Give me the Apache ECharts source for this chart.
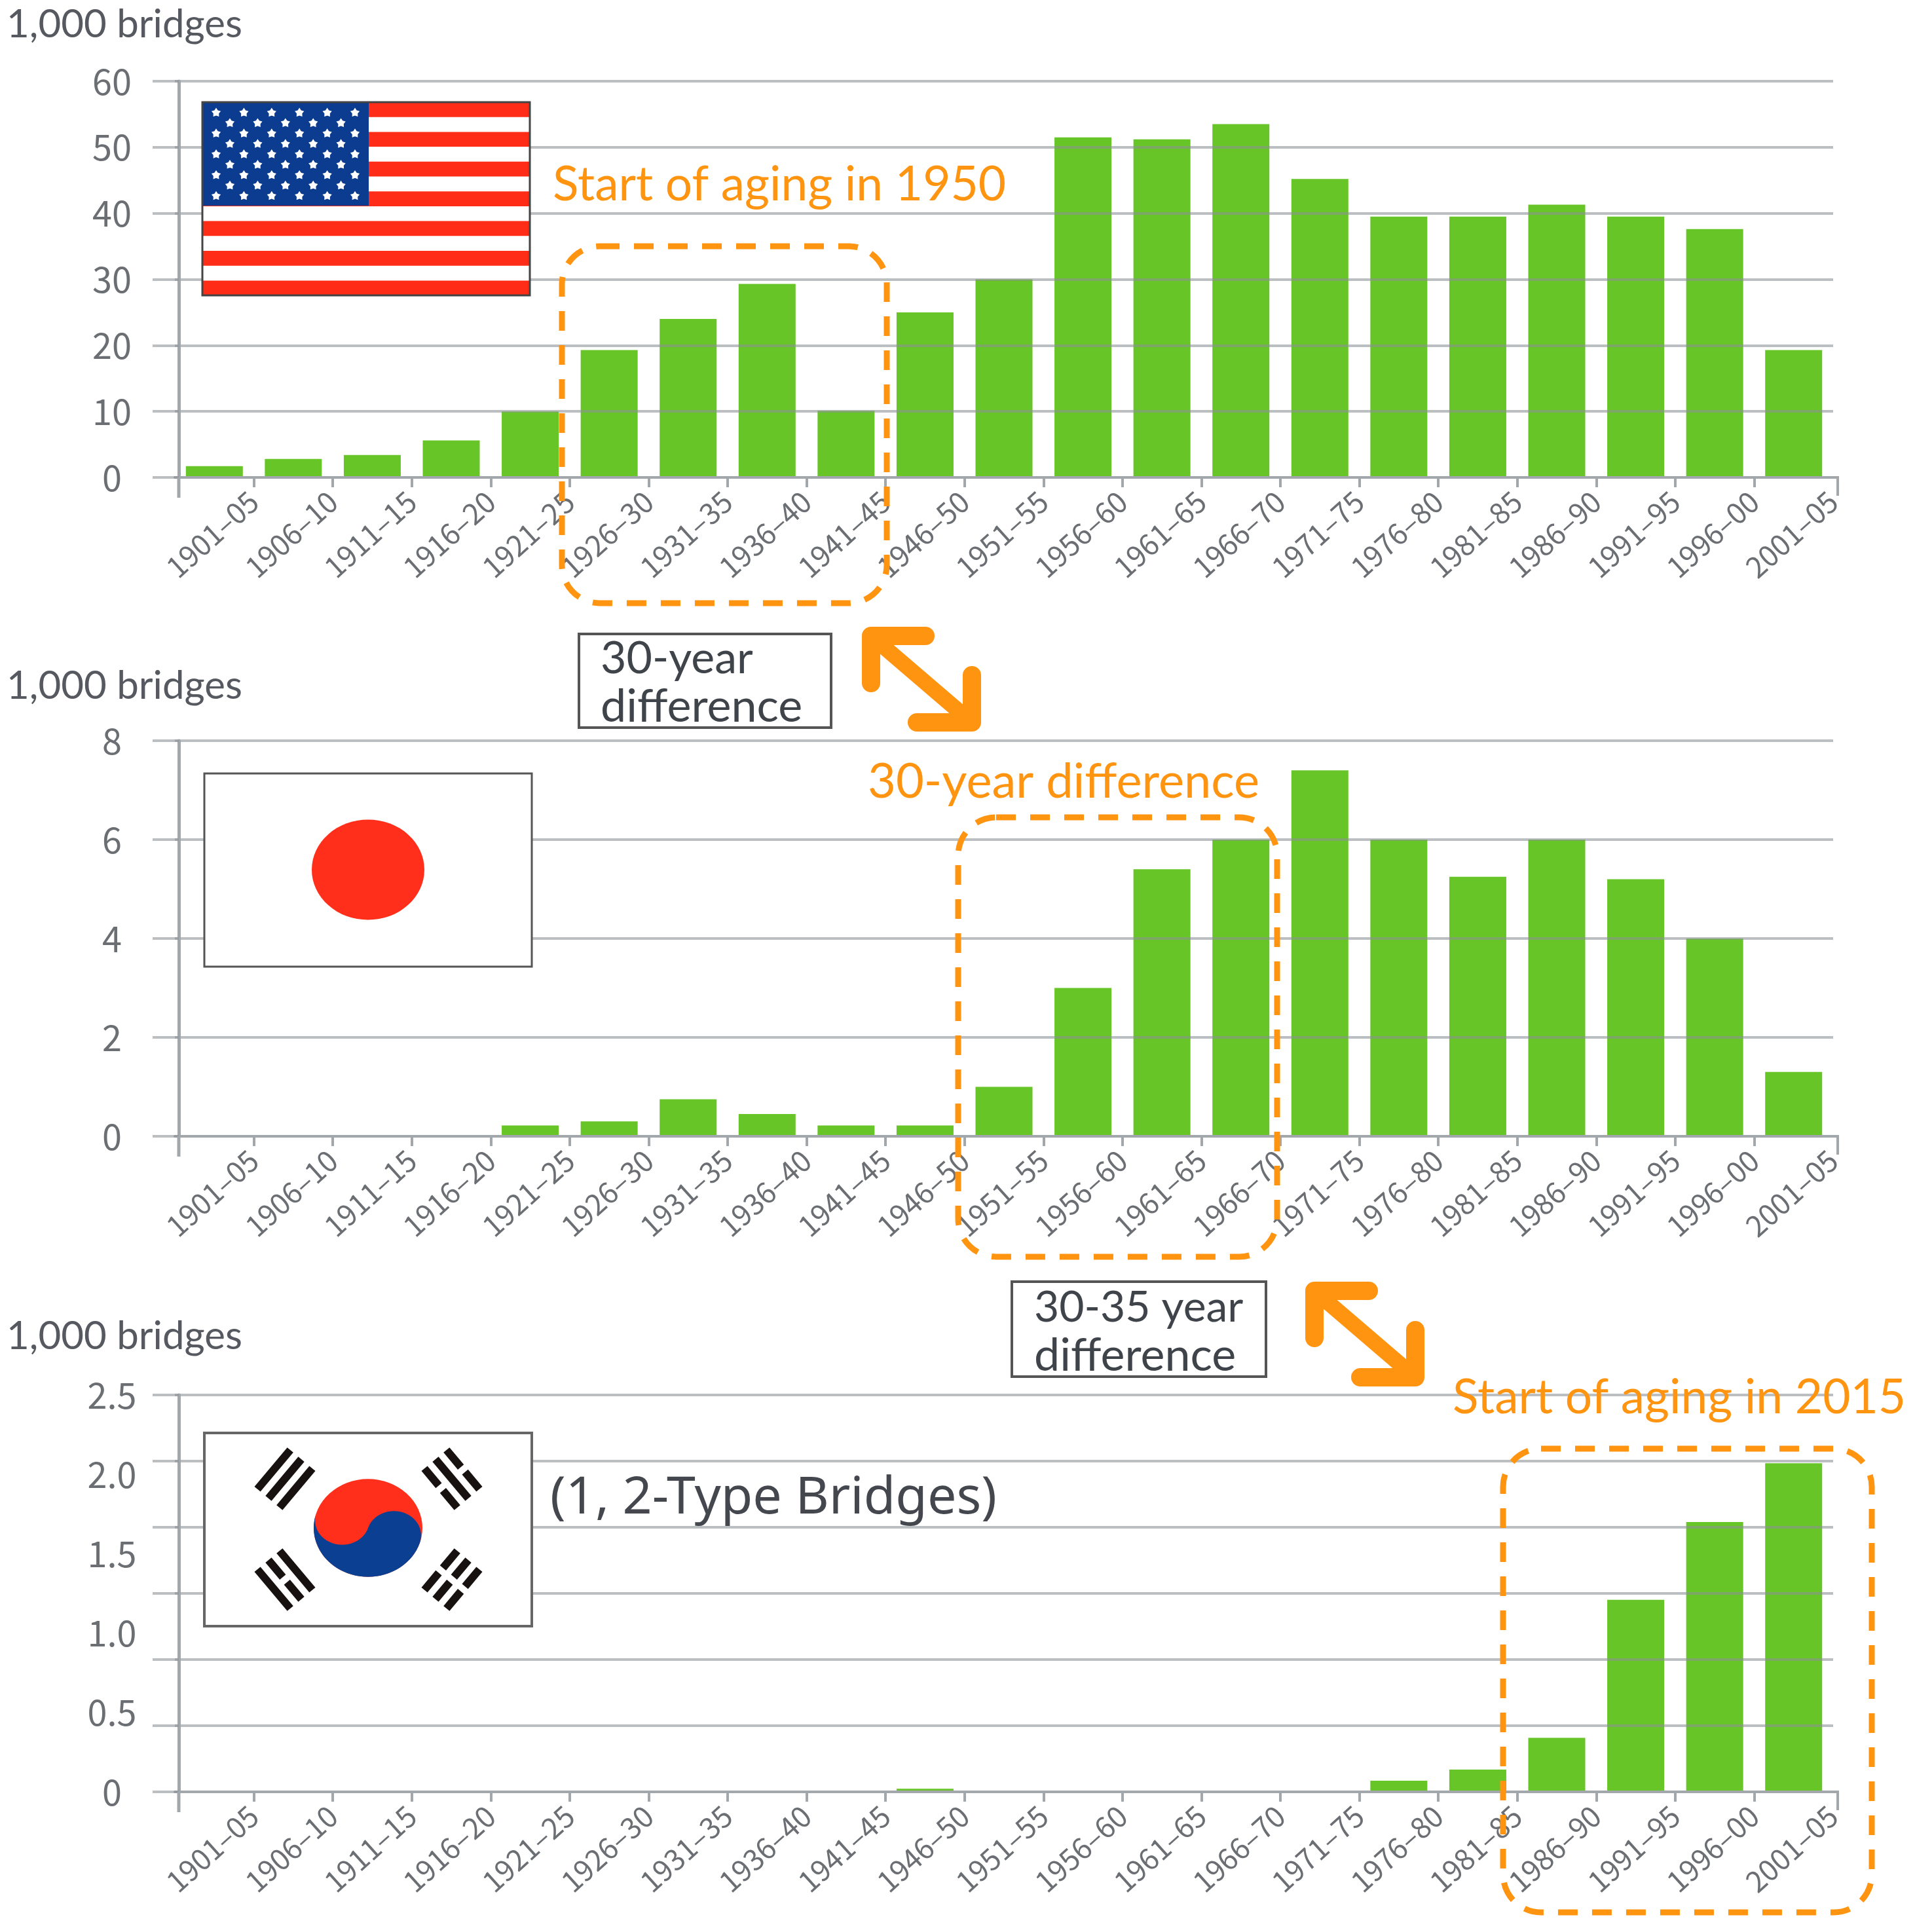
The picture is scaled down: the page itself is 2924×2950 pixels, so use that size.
<!DOCTYPE html>
<html>
<head>
<meta charset="utf-8">
<title>Bridges by construction period</title>
<script src="https://cdn.jsdelivr.net/npm/echarts@6/dist/echarts.min.js"></script>
<style>
  html, body { margin: 0; padding: 0; background: #fff; }
  #main { width: 2924px; height: 2950px; }
</style>
</head>
<body>
<div id="main"></div>
<script>
// data, unit: 1,000 bridges
const periods = ['1901–05', '1906–10', '1911–15', '1916–20', '1921–25', '1926–30', '1931–35',
  '1936–40', '1941–45', '1946–50', '1951–55', '1956–60', '1961–65', '1966–70', '1971–75',
  '1976–80', '1981–85', '1986–90', '1991–95', '1996–00', '2001–05'];
const usaValues = [1.7, 2.8, 3.4, 5.6, 10, 19.3, 24, 29.3, 10.1, 25, 30, 51.5, 51.2, 53.5, 45.2, 39.5, 39.5, 41.3, 39.5, 37.6, 19.3];
const japanValues = [0, 0, 0, 0, 0.22, 0.3, 0.75, 0.45, 0.22, 0.22, 1, 3, 5.4, 6, 7.4, 6, 5.25, 6, 5.2, 4, 1.3];
const koreaValues = [0, 0, 0, 0, 0, 0, 0, 0, 0, 0.02, 0, 0, 0, 0, 0, 0.07, 0.14, 0.34, 1.21, 1.7, 2.07];
const usaTicks = ['0', '10', '20', '30', '40', '50', '60'];
const japanTicks = ['0', '2', '4', '6', '8'];
const koreaTicks = ['0', '0.5', '1.0', '1.5', '2.0', '2.5'];
const koreaGridLines = 6; // the source has 7 rules behind 6 labels

const GREEN = '#67c527';
const ORANGE = '#ff9410';
const GRID_COLOR = 'rgba(140,145,150,0.58)';
const AXIS_COLOR = '#a2a7ac';
const LABEL_COLOR = '#6b6e72';
const TICK_FONT = 'Noto Sans CJK KR';
const NOTE_FONT = 'Lato';

const charts = [
  { top: 124, bottom: 729, values: usaValues, ticks: usaTicks, step: 10 },
  { top: 1131, bottom: 1735, values: japanValues, ticks: japanTicks, step: 2 },
  { top: 2130, bottom: 2736, values: koreaValues, ticks: koreaTicks, step: 0.5, rules: koreaGridLines }
];

const grids = [], xAxes = [], yAxes = [], series = [];

charts.forEach(function (c, i) {
  grids.push({ left: 267, width: 2532, top: c.top, height: c.bottom - c.top });

  const max = c.step * (c.ticks.length - 1);
  const xBase = xAxes.length;
  const yBase = yAxes.length;

  // axis that carries the bars
  xAxes.push({ gridIndex: i, type: 'category', data: periods, show: false });
  // labels and ticks sit on the band edges, not on the band centres
  xAxes.push({
    gridIndex: i, type: 'category', boundaryGap: false, position: 'bottom', z: 3,
    data: [''].concat(periods),
    axisLine: { onZero: false, lineStyle: { color: AXIS_COLOR, width: 4 } },
    axisTick: {
      length: 15,
      interval: function (idx) { return idx > 0 && idx < periods.length; },
      lineStyle: { color: AXIS_COLOR, width: 4 }
    },
    axisLabel: {
      interval: 0, rotate: 42, margin: 30, hideOverlap: false,
      color: LABEL_COLOR, fontFamily: TICK_FONT, fontSize: 44
    }
  });

  const rule = { show: true, lineStyle: { color: GRID_COLOR, width: 4 } };
  const leftTick = { show: true, length: 40, lineStyle: { color: GRID_COLOR, width: 4 } };
  yAxes.push({
    gridIndex: i, type: 'value', position: 'left', offset: -6, min: 0, max: max, interval: c.step, z: 3,
    axisLine: { show: true, onZero: false, lineStyle: { color: AXIS_COLOR, width: 5 } },
    axisTick: c.rules ? { show: false } : leftTick,
    splitLine: c.rules ? { show: false } : rule,
    axisLabel: {
      align: 'center', margin: 102,
      color: LABEL_COLOR, fontFamily: TICK_FONT, fontSize: 54,
      formatter: function (v) { return c.ticks[Math.round(v / c.step)]; }
    }
  });
  if (c.rules) {
    yAxes.push({
      gridIndex: i, type: 'value', position: 'left', offset: -6, min: 0, max: c.rules, interval: 1, z: 3,
      axisLine: { show: false }, axisLabel: { show: false },
      axisTick: leftTick, splitLine: rule
    });
  }

  series.push({
    type: 'bar', xAxisIndex: xBase, yAxisIndex: yBase, data: c.values,
    barWidth: 87, z: 2, itemStyle: { color: GREEN }, silent: true
  });
});

// decorations: flags, notes, dashed boxes, arrows
const Z = 20;
const gfx = [];

function rect(x, y, w, h, fill, stroke, lineWidth) {
  gfx.push({ type: 'rect', z: Z, shape: { x: x, y: y, width: w, height: h },
    style: { fill: fill, stroke: stroke || null, lineWidth: lineWidth || 0 } });
}
function text(str, x, y, font, color) {
  gfx.push({ type: 'text', z: Z + 1, x: x, y: y,
    style: { text: str, font: font, fill: color, textAlign: 'left', textVerticalAlign: 'middle' } });
}
function dashedBox(x, y, w, h) {
  gfx.push({ type: 'rect', z: Z + 2, shape: { x: x, y: y, width: w, height: h, r: 58 },
    style: { fill: null, stroke: ORANGE, lineWidth: 9, lineDash: [30, 22] } });
}
function arrow(dx, dy) {
  const lines = [
    [[1413 + dx, 971 + dy], [1330 + dx, 971 + dy], [1330 + dx, 1043 + dy]],
    [[1400 + dx, 1103 + dy], [1484 + dx, 1103 + dy], [1484 + dx, 1031 + dy]],
    [[1330 + dx, 971 + dy], [1484 + dx, 1103 + dy]]
  ];
  lines.forEach(function (pts, k) {
    gfx.push({ type: 'polyline', z: Z + 2, shape: { points: pts },
      style: { fill: null, stroke: ORANGE, lineWidth: k === 2 ? 24 : 28, lineCap: 'round', lineJoin: 'round' } });
  });
}

// axis ends: the y axis runs below the baseline, the x axis ends in a long tick
charts.forEach(function (c) {
  gfx.push({ type: 'line', z: 4, shape: { x1: 273, y1: c.bottom, x2: 273, y2: c.bottom + 31 },
    style: { stroke: AXIS_COLOR, lineWidth: 5 } });
  gfx.push({ type: 'polyline', z: 4, shape: { points: [[2799, c.bottom], [2806, c.bottom], [2806, c.bottom + 28]] },
    style: { fill: null, stroke: AXIS_COLOR, lineWidth: 4 } });
});

// USA
rect(309, 156, 500, 295, '#fff');
for (let s = 0; s < 13; s += 2) {
  rect(309, 156 + s * 22.7, 500, 22.7, '#ff2c17');
}
rect(309, 156, 254, 158, '#0b3c8f');
for (let row = 0; row < 9; row++) {
  const cols = row % 2 ? 5 : 6;
  for (let col = 0; col < cols; col++) {
    const cx = 330 + (row % 2 ? 21 : 0) + col * 42.4;
    const cy = 172 + row * 15.9;
    const pts = [];
    for (let p = 0; p < 10; p++) {
      const r = p % 2 ? 4.4 : 7.5;
      const a = -Math.PI / 2 + p * Math.PI / 5;
      pts.push([cx + r * Math.cos(a), cy + r * Math.sin(a)]);
    }
    gfx.push({ type: 'polygon', z: Z, shape: { points: pts }, style: { fill: '#fff' } });
  }
}
rect(309, 156, 500, 295, null, '#444', 3);

// Japan
rect(312, 1181, 500, 295, '#fff', '#555', 3);
gfx.push({ type: 'circle', z: Z, x: 562, y: 1328, scaleY: 0.89, shape: { cx: 0, cy: 0, r: 86 },
  style: { fill: '#ff2f1c' } });

// Korea
rect(312, 2188, 500, 295, '#fff', '#666', 4);
(function taegeuk(cx, cy, r) {
  const tilt = 18 * Math.PI / 180;
  const pts = [];
  const add = function (u, v) {
    pts.push([u * Math.cos(tilt) - v * Math.sin(tilt), u * Math.sin(tilt) + v * Math.cos(tilt)]);
  };
  for (let k = 0; k <= 40; k++) { const a = k / 40 * Math.PI; add(r * Math.cos(a), r * Math.sin(a)); }
  for (let k = 0; k <= 30; k++) { const a = k / 30 * Math.PI; add(-r / 2 - r / 2 * Math.cos(a), r / 2 * Math.sin(a)); }
  for (let k = 0; k <= 30; k++) { const a = k / 30 * Math.PI; add(r / 2 - r / 2 * Math.cos(a), -r / 2 * Math.sin(a)); }
  gfx.push({ type: 'circle', z: Z, x: cx, y: cy, scaleY: 0.9, shape: { cx: 0, cy: 0, r: r }, style: { fill: '#ff2f1c' } });
  gfx.push({ type: 'polygon', z: Z, x: cx, y: cy, scaleY: 0.9, shape: { points: pts }, style: { fill: '#0a3f92' } });
})(562, 2333, 83);

// each bar: true solid, false broken in the middle
function trigram(cx, cy, angle, bars) {
  const ux = Math.cos(angle), uy = Math.sin(angle);
  const vx = -uy, vy = ux;
  const half = 39, gap = 22;
  bars.forEach(function (solid, b) {
    const o = (b - 1) * gap;
    const mx = cx + vx * o, my = cy + vy * o;
    const segs = solid ? [[-half, half]] : [[-half, -5], [5, half]];
    segs.forEach(function (g) {
      gfx.push({ type: 'line', z: Z,
        shape: { x1: mx + ux * g[0], y1: my + uy * g[0], x2: mx + ux * g[1], y2: my + uy * g[1] },
        style: { stroke: '#17110f', lineWidth: 12 } });
    });
  });
}
const RISE = -50 * Math.PI / 180;
const FALL = 50 * Math.PI / 180;
trigram(435, 2258, RISE, [true, true, true]);
trigram(690, 2258, FALL, [false, true, false]);
trigram(435, 2412, FALL, [true, false, true]);
trigram(690, 2412, RISE, [false, false, false]);

// unit labels
[38, 1048, 2041].forEach(function (y) { text('1,000 bridges', 10, y, '60px ' + NOTE_FONT, '#565a60'); });

// orange notes
text('Start of aging in 1950', 844, 282, '73px ' + NOTE_FONT, ORANGE);
text('30-year difference', 1325, 1194, '74px ' + NOTE_FONT, ORANGE);
text('Start of aging in 2015', 2218, 2134, '73px ' + NOTE_FONT, ORANGE);
text('(1, 2-Type Bridges)', 840, 2288, '79px "Noto Sans"', '#44484e');

// boxed notes
rect(884, 968, 385, 143, '#fff', '#555', 4);
text('30-year', 917, 1006, '68px ' + NOTE_FONT, '#3f434a');
text('difference', 917, 1079, '70px ' + NOTE_FONT, '#3f434a');
rect(1545, 1957, 388, 145, '#fff', '#555', 4);
text('30-35 year', 1579, 1997, '66px ' + NOTE_FONT, '#3f434a');
text('difference', 1579, 2070, '70px ' + NOTE_FONT, '#3f434a');

dashedBox(858, 376, 496, 545);
dashedBox(1463, 1248, 487, 671);
dashedBox(2295, 2212, 563, 708);
arrow(0, 0);
arrow(677, 1000);

const chart = echarts.init(document.getElementById('main'));
chart.setOption({
  animation: false,
  backgroundColor: '#fff',
  grid: grids,
  xAxis: xAxes,
  yAxis: yAxes,
  series: series,
  graphic: { elements: gfx }
});
</script>
</body>
</html>
